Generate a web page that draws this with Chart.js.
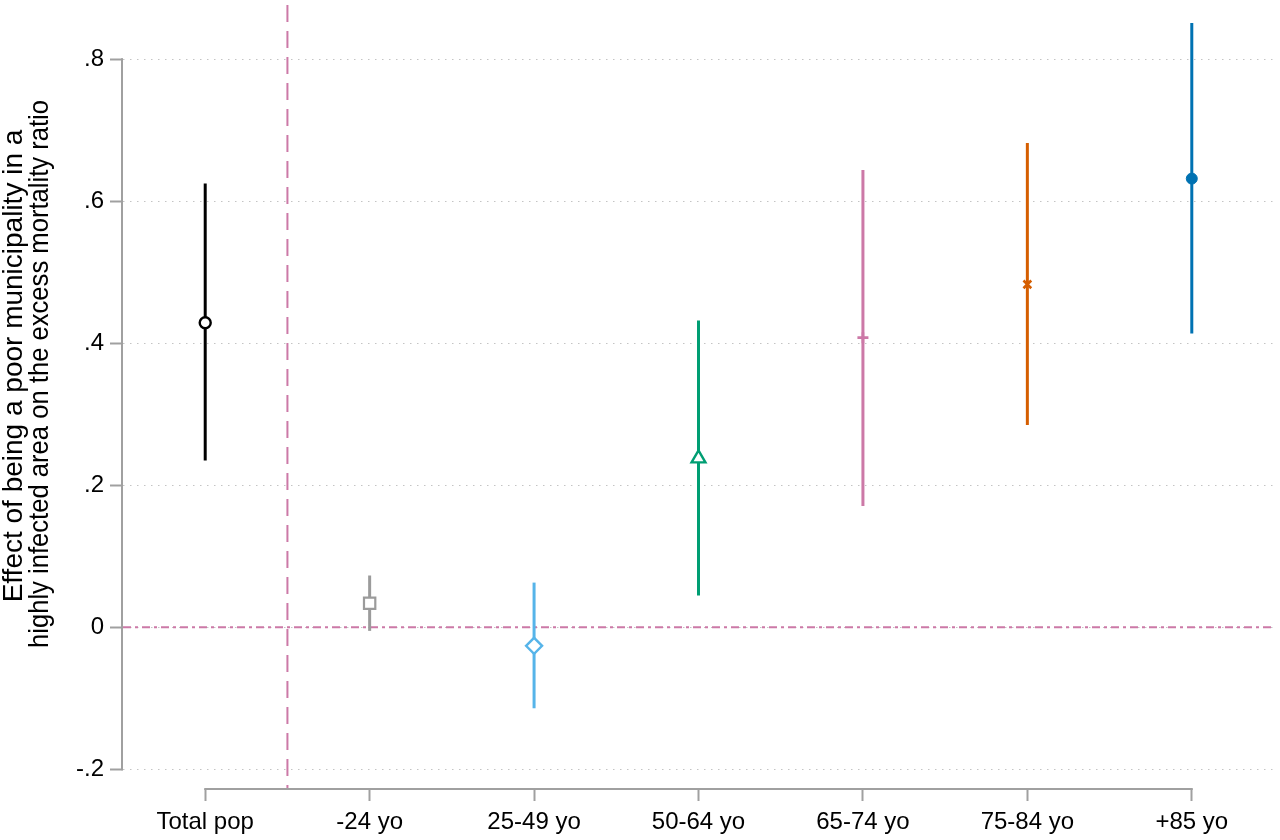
<!DOCTYPE html>
<html>
<head>
<meta charset="utf-8">
<script src="https://cdn.jsdelivr.net/npm/chart.js@4"></script>
<style>
  html, body { margin:0; padding:0; background:#fff; }
  #wrap { width:1280px; height:840px; position:relative; }
</style>
</head>
<body>
<div id="wrap"><canvas id="chart"></canvas></div>
<script>
// --- Données ---
const categories = ['Total pop','-24 yo','25-49 yo','50-64 yo','65-74 yo','75-84 yo','+85 yo'];
const estimates = [0.429, 0.034, -0.026, 0.238, 0.408, 0.483, 0.632];
const ciLower   = [0.235, -0.005, -0.114, 0.045, 0.171, 0.285, 0.414];
const ciUpper   = [0.625, 0.073, 0.063, 0.432, 0.644, 0.682, 0.851];
const yTicks = [-0.2, 0, 0.2, 0.4, 0.6, 0.8];
const yTickLabels = ['-.2','0','.2','.4','.6','.8'];
const yTitle = ['Effect of being a poor municipality in a','highly infected area on the excess mortality ratio'];
const zeroLine = 0;
const dividerX = 1.5;

// --- Styles ---
const colors = ['#000000','#9b9b9b','#56b4e9','#009e73','#cc79a7','#d55e00','#0072b2'];
const markers = ['circle','rect','rectRot','triangle','cross','crossRot','circle'];
const markerSize = [5.5, 8, 8, 8, 5.5, 5.5, 5.5];
const markerFill = ['#ffffff','#ffffff','#ffffff','#ffffff', colors[4], colors[5], colors[6]];
const markerBorder = [2.4, 2.2, 2.4, 2.4, 2.6, 2.6, 1];
const refColor = '#cc79a7';
const axisColor = '#a0a0a0';
const font = '"Liberation Sans", Arial, sans-serif';

// --- Lignes de référence, axes partiels et titre Y ---
const extras = {
  id:'extras',
  beforeDatasetsDraw(chart) {
    const {ctx, chartArea:a, scales:{x, y}} = chart;
    ctx.save();
    ctx.strokeStyle = refColor;
    ctx.lineWidth = 2;
    ctx.setLineDash([17, 9]);
    const vx = x.getPixelForValue(dividerX);
    ctx.beginPath(); ctx.moveTo(vx, a.top); ctx.lineTo(vx, a.bottom); ctx.stroke();
    ctx.setLineDash([8, 4, 3, 4]);
    const hy = y.getPixelForValue(zeroLine);
    ctx.beginPath(); ctx.moveTo(a.left, hy); ctx.lineTo(a.right, hy); ctx.stroke();
    // axes (only across the tick range, like Stata)
    ctx.setLineDash([]);
    ctx.strokeStyle = axisColor;
    ctx.beginPath();
    ctx.moveTo(a.left - 1, y.getPixelForValue(yTicks[0]) + 1);
    ctx.lineTo(a.left - 1, y.getPixelForValue(yTicks[yTicks.length-1]) - 1);
    ctx.stroke();
    ctx.beginPath();
    ctx.moveTo(x.getPixelForValue(1) - 1, a.bottom);
    ctx.lineTo(x.getPixelForValue(categories.length) + 1, a.bottom);
    ctx.stroke();
    ctx.restore();
  },
  afterDraw(chart) {
    const {ctx} = chart;
    ctx.save();
    ctx.fillStyle = '#000';
    ctx.font = '28px ' + font;
    ctx.textAlign = 'center';
    ctx.textBaseline = 'middle';
    ctx.rotate(-Math.PI/2);
    // rotated frame: x' = -pageY, y' = pageX
    ctx.fillText(yTitle[0], -366, 14);
    ctx.fillText(yTitle[1], -374, 40, 548);
    ctx.restore();
  }
};

const ciSets = categories.map((c, i) => ({
  label: c,
  data: [{x:i+1, y:ciLower[i]}, {x:i+1, y:ciUpper[i]}],
  borderColor: colors[i],
  borderWidth: 3,
  borderCapStyle: 'butt',
  pointRadius: 0,
  order: 1
}));

const pointSet = {
  type: 'scatter',
  label: 'estimate',
  data: estimates.map((v, i) => ({x:i+1, y:v})),
  showLine: false,
  pointStyle: markers,
  pointRadius: markerSize,
  pointBackgroundColor: markerFill,
  pointBorderColor: colors,
  pointBorderWidth: markerBorder,
  order: 0
};

const chart = new Chart(document.getElementById('chart'), {
  type: 'line',
  data: { datasets: [pointSet, ...ciSets] },
  options: {
    responsive: true,
    maintainAspectRatio: false,
    animation: false,
    layout: { autoPadding: false, padding: { top:5, right:6, left:0, bottom:0 } },
    plugins: { legend:{display:false}, tooltip:{enabled:false} },
    scales: {
      x: {
        type: 'linear', min: 0.5, max: 7.5,
        afterFit(s) { s.height = 51; s.paddingLeft = 0; s.paddingRight = 0; },
        afterBuildTicks(s) { s.ticks = categories.map((c, i) => ({value:i+1})); },
        ticks: { callback:(v, i) => categories[i], autoSkip:false, maxRotation:0, padding:7,
                 color:'#000', font:{family:font, size:24} },
        grid: { drawOnChartArea:false, drawTicks:true, tickLength:12, tickColor:axisColor, tickWidth:2 },
        border: { display:false }
      },
      y: {
        type: 'linear', min: -0.2277, max: 0.8765,
        afterFit(s) { s.width = 123; s.paddingTop = 0; s.paddingBottom = 0; },
        afterBuildTicks(s) { s.ticks = yTicks.map(v => ({value:v})); },
        ticks: { callback:(v, i) => yTickLabels[i], padding:6, color:'#000', font:{family:font, size:24} },
        grid: { color:'#c4c4c4', lineWidth:1, drawTicks:true, tickLength:13, tickColor:axisColor, tickWidth:2, tickBorderDash:[] },
        border: { display:false, dash:[1.5, 5.5] }
      }
    }
  },
  plugins: [extras]
});
</script>
</body>
</html>
